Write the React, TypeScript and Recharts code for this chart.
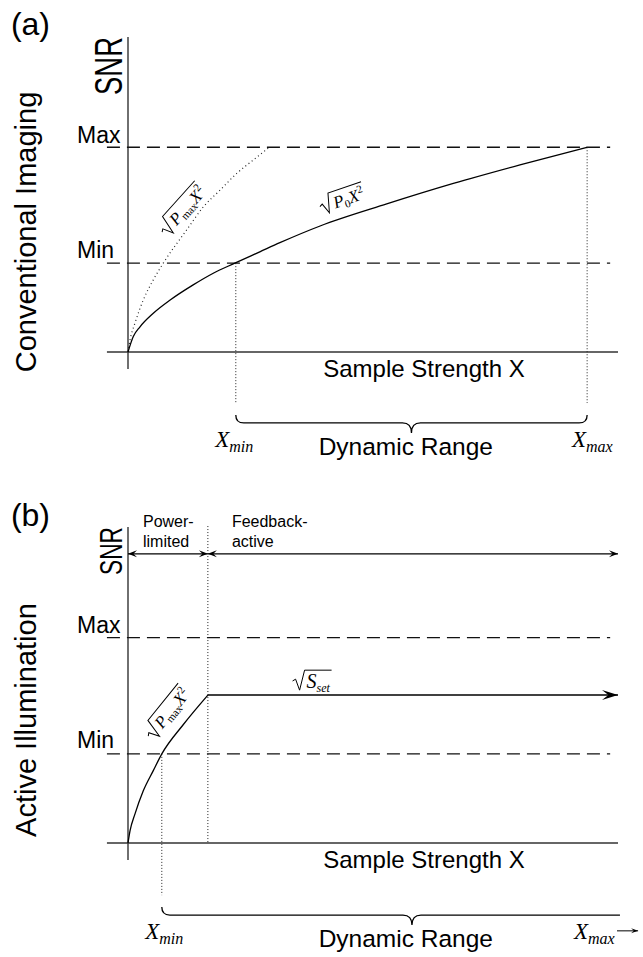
import React from 'react';
import { LineChart, Line, XAxis, YAxis, ReferenceLine, ReferenceDot } from 'recharts';

// SNR levels (same scale in both panels, 0..100)
const snrMax = 65;
const snrMin = 28.2;
const snrSet = 46.8;
const arrowRow = 91.5;

// sample strength positions (0..100)
const xMinConv = 22;
const xMaxConv = 93.7;
const xMinActive = 6.9;
const xKnee = 16.3;

// (a) sqrt(P0 X^2), solid
const convCurve = [
  { x: 0, y: 0 }, { x: 1.08, y: 4.9 }, { x: 2.45, y: 8.0 }, { x: 5.16, y: 12.3 },
  { x: 8.6, y: 16.5 }, { x: 13.3, y: 21.3 }, { x: 17.4, y: 25.0 }, { x: 21.8, y: 28.2 },
  { x: 26.9, y: 31.8 }, { x: 31.0, y: 34.7 }, { x: 39.2, y: 40.0 }, { x: 52.8, y: 47.0 },
  { x: 66.4, y: 53.5 }, { x: 80, y: 59.4 }, { x: 93.7, y: 65 },
];
// (a) sqrt(Pmax X^2), dotted
const pmaxCurve = [
  { x: 0, y: 0 }, { x: 0.41, y: 3.8 }, { x: 1.43, y: 9.2 }, { x: 3.12, y: 16.5 },
  { x: 5.16, y: 22.9 }, { x: 7.2, y: 28.2 }, { x: 12.0, y: 38.8 }, { x: 15.4, y: 46.1 },
  { x: 18.8, y: 51.4 }, { x: 22.2, y: 56.7 }, { x: 25.6, y: 61.0 }, { x: 28.6, y: 64.7 },
];
// (b) power-limited rise
const activeRise = [
  { x: 0, y: 0 }, { x: 0.41, y: 3.8 }, { x: 1.43, y: 9.2 }, { x: 3.12, y: 16.5 },
  { x: 5.16, y: 22.9 }, { x: 6.9, y: 28.2 }, { x: 11.3, y: 37.5 }, { x: 16.3, y: 46.8 },
];
// (b) feedback-active plateau
const activeFlat = [{ x: xKnee, y: snrSet }, { x: 100, y: snrSet }];

const levelNames = ['Max', 'Min'];

const SANS = '"Liberation Sans", Arial, Helvetica, sans-serif';
const SERIF = '"Liberation Serif", "Times New Roman", serif';
const INK = '#000';
const AXIS = '#333';

type TxtOpts = { size: number; anchor?: 'start' | 'middle' | 'end'; rotate?: number; len?: number };

const txt = (s: string | string[], o: TxtOpts) => (p: any) => {
  const rows = Array.isArray(s) ? s : [s];
  return (
    <text
      x={p.cx}
      y={p.cy}
      fontFamily={SANS}
      fontSize={o.size}
      textAnchor={o.anchor || 'start'}
      fill={INK}
      transform={o.rotate ? `rotate(${o.rotate} ${p.cx} ${p.cy})` : undefined}
      {...(o.len ? { textLength: o.len, lengthAdjust: 'spacingAndGlyphs' } : {})}
    >
      {rows.map((r, i) => (
        <tspan key={i} x={p.cx} dy={i === 0 ? 0 : o.size * 1.25}>{r}</tspan>
      ))}
    </text>
  );
};

const xSym = (sub: string) => (p: any) => (
  <text x={p.cx} y={p.cy} fontFamily={SERIF} fontStyle="italic" fill={INK}>
    <tspan fontSize={23}>X</tspan>
    <tspan fontSize={16} dy={5}>{sub}</tspan>
  </text>
);

// radical sign with body
const root = (h: number, w: number, angle: number, body: React.ReactNode) => (p: any) => (
  <g transform={`translate(${p.cx} ${p.cy}) rotate(${angle})`}>
    <path
      d={`M -3 ${-0.4 * h} L 0 ${-0.5 * h} L 4 2 L 9 ${-h} L ${12 + w} ${-h}`}
      fill="none"
      stroke={INK}
      strokeWidth={1}
    />
    <text x={11} y={0} fontFamily={SERIF} fill={INK}>{body}</text>
  </g>
);

const pmaxBody = (
  <>
    <tspan fontStyle="italic" fontSize={17}>P</tspan>
    <tspan fontSize={11} dy={3}>max</tspan>
    <tspan fontStyle="italic" fontSize={17} dy={-3}>X</tspan>
    <tspan fontSize={11} dy={-7}>2</tspan>
  </>
);
const p0Body = (
  <>
    <tspan fontStyle="italic" fontSize={17}>P</tspan>
    <tspan fontSize={11} dy={3}>0</tspan>
    <tspan fontStyle="italic" fontSize={17} dy={-3}>X</tspan>
    <tspan fontSize={11} dy={-7}>2</tspan>
  </>
);
const ssetBody = (
  <>
    <tspan fontStyle="italic" fontSize={20}>S</tspan>
    <tspan fontStyle="italic" fontSize={12} dy={4}>set</tspan>
  </>
);

const brace = (tip: number, left: boolean, right: boolean) => (p: any) => {
  const { x1, x2, y1: y } = p;
  const m = x1 + (x2 - x1) * tip;
  const r = 8;
  const d = [
    left ? `M ${x1} ${y - r} Q ${x1} ${y} ${x1 + r} ${y}` : `M ${x1} ${y}`,
    `L ${m - 9} ${y} Q ${m} ${y} ${m} ${y + 10} Q ${m} ${y} ${m + 9} ${y}`,
    right ? `L ${x2 - r} ${y} Q ${x2} ${y} ${x2} ${y - r}` : `L ${x2} ${y}`,
  ].join(' ');
  return <path d={d} fill="none" stroke={INK} strokeWidth={1.3} />;
};

const head = (x: number, y: number, dir: number, len: number, half: number) =>
  `M ${x} ${y} L ${x - dir * len} ${y - half} L ${x - dir * len * 0.6} ${y} L ${x - dir * len} ${y + half} Z`;

const arrow = (both: boolean, len: number, half: number, width: number) => (p: any) => (
  <g>
    <line x1={p.x1} y1={p.y1} x2={p.x2} y2={p.y2} stroke={INK} strokeWidth={width} />
    {both && <path d={head(p.x1, p.y1, -1, len, half)} fill={INK} />}
    <path d={head(p.x2, p.y2, 1, len, half)} fill={INK} />
  </g>
);

const plateauHead = (props: any) =>
  props.index === activeFlat.length - 1 ? (
    <path key={`h-${props.index}`} d={head(props.cx, props.cy, 1, 16, 5)} fill={INK} />
  ) : (
    <g key={`h-${props.index}`} />
  );

const V = 'visible' as const;

// shared frame: axes, Max/Min dashed levels and their labels
const frame = (levelY: number[]) => [
  <ReferenceLine key="ya" segment={[{ x: 0, y: -5.4 }, { x: 0, y: 100 }]} stroke={AXIS} strokeWidth={1.4} ifOverflow={V} />,
  <ReferenceLine key="xa" segment={[{ x: -4.3, y: 0 }, { x: 100, y: 0 }]} stroke={AXIS} strokeWidth={1.4} ifOverflow={V} />,
  <ReferenceLine key="lmax" segment={[{ x: -4.3, y: snrMax }, { x: 98.4, y: snrMax }]} stroke="#111" strokeWidth={1.3} strokeDasharray="13 7" ifOverflow={V} />,
  <ReferenceLine key="lmin" segment={[{ x: -4.3, y: snrMin }, { x: 98.4, y: snrMin }]} stroke="#111" strokeWidth={1.3} strokeDasharray="13 7" ifOverflow={V} />,
  ...levelNames.map((n, i) => (
    <ReferenceDot key={n} x={-10.4} y={levelY[i]} r={0} ifOverflow={V} shape={txt(n, { size: 23 })} />
  )),
  <ReferenceDot key="sx" x={60.4} y={-7.9} r={0} ifOverflow={V} shape={txt('Sample Strength X', { size: 24, anchor: 'middle' })} />,
];

export default function App() {
  return (
    <div style={{ position: 'absolute', left: 0, top: 0, width: 643, height: 957, background: '#fff' }}>
      <LineChart width={643} height={490} margin={{ top: 37, right: 25, bottom: 138, left: 128 }}>
        <XAxis type="number" dataKey="x" domain={[0, 100]} hide />
        <YAxis type="number" dataKey="y" domain={[0, 100]} hide />
        {frame([66.3, 29.8])}
        <ReferenceLine segment={[{ x: xMinConv, y: snrMin }, { x: xMinConv, y: -16.2 }]} stroke="#222" strokeDasharray="1 2" ifOverflow={V} />
        <ReferenceLine segment={[{ x: xMaxConv, y: snrMax }, { x: xMaxConv, y: -16.2 }]} stroke="#222" strokeDasharray="1 2" ifOverflow={V} />
        <ReferenceLine segment={[{ x: xMinConv, y: -22.5 }, { x: xMaxConv, y: -22.5 }]} ifOverflow={V} shape={brace(0.5, true, true)} />
        <Line data={pmaxCurve} dataKey="y" type="monotone" stroke="#222" strokeWidth={1.2} strokeDasharray="1 3" dot={false} activeDot={false} isAnimationActive={false} />
        <Line data={convCurve} dataKey="y" type="monotone" stroke={INK} strokeWidth={1.3} dot={false} activeDot={false} isAnimationActive={false} />
        <ReferenceDot x={-23.9} y={100.6} r={0} ifOverflow={V} shape={txt('(a)', { size: 32 })} />
        <ReferenceDot x={-1.2} y={90.8} r={0} ifOverflow={V} shape={txt('SNR', { size: 39, anchor: 'middle', rotate: -90, len: 58 })} />
        <ReferenceDot x={-18.8} y={38.1} r={0} ifOverflow={V} shape={txt('Conventional Imaging', { size: 29, anchor: 'middle', rotate: -90 })} />
        <ReferenceDot x={56.7} y={-32.7} r={0} ifOverflow={V} shape={txt('Dynamic Range', { size: 24.5, anchor: 'middle' })} />
        <ReferenceDot x={17.8} y={-30.2} r={0} ifOverflow={V} shape={xSym('min')} />
        <ReferenceDot x={90.6} y={-30.2} r={0} ifOverflow={V} shape={xSym('max')} />
        <ReferenceDot x={40.2} y={44.4} r={0} ifOverflow={V} shape={root(17, 32, -19, p0Body)} />
        <ReferenceDot x={8.4} y={37.3} r={0} ifOverflow={V} shape={root(17, 45, -48, pmaxBody)} />
      </LineChart>

      <LineChart width={643} height={467} margin={{ top: 37, right: 25, bottom: 114, left: 128 }}>
        <XAxis type="number" dataKey="x" domain={[0, 100]} hide />
        <YAxis type="number" dataKey="y" domain={[0, 100]} hide />
        {frame([66.5, 30.1])}
        <ReferenceLine segment={[{ x: xKnee, y: 100.3 }, { x: xKnee, y: 0 }]} stroke="#222" strokeDasharray="1 2" ifOverflow={V} />
        <ReferenceLine segment={[{ x: xMinActive, y: snrMin }, { x: xMinActive, y: -16.5 }]} stroke="#222" strokeDasharray="1 2" ifOverflow={V} />
        <ReferenceLine segment={[{ x: xMinActive, y: -22.8 }, { x: 100.4, y: -22.8 }]} ifOverflow={V} shape={brace(0.546, true, false)} />
        <ReferenceLine segment={[{ x: 0, y: arrowRow }, { x: xKnee, y: arrowRow }]} ifOverflow={V} shape={arrow(true, 9, 3.5, 1.2)} />
        <ReferenceLine segment={[{ x: xKnee, y: arrowRow }, { x: 100, y: arrowRow }]} ifOverflow={V} shape={arrow(true, 9, 3.5, 1.2)} />
        <ReferenceLine segment={[{ x: 99.8, y: -27.8 }, { x: 104.1, y: -27.8 }]} ifOverflow={V} shape={arrow(false, 7, 2.5, 1)} />
        <Line data={activeRise} dataKey="y" type="monotone" stroke={INK} strokeWidth={1.3} dot={false} activeDot={false} isAnimationActive={false} />
        <Line data={activeFlat} dataKey="y" type="linear" stroke={INK} strokeWidth={1.5} dot={plateauHead} activeDot={false} isAnimationActive={false} />
        <ReferenceDot x={-23.9} y={100.3} r={0} ifOverflow={V} shape={txt('(b)', { size: 32 })} />
        <ReferenceDot x={-1.2} y={92.4} r={0} ifOverflow={V} shape={txt('SNR', { size: 31, anchor: 'middle', rotate: -90, len: 48 })} />
        <ReferenceDot x={-18.8} y={38.9} r={0} ifOverflow={V} shape={txt('Active Illumination', { size: 29, anchor: 'middle', rotate: -90 })} />
        <ReferenceDot x={3.06} y={100} r={0} ifOverflow={V} shape={txt(['Power-', 'limited'], { size: 16 })} />
        <ReferenceDot x={21.2} y={100} r={0} ifOverflow={V} shape={txt(['Feedback-', 'active'], { size: 16 })} />
        <ReferenceDot x={56.7} y={-32.9} r={0} ifOverflow={V} shape={txt('Dynamic Range', { size: 24.5, anchor: 'middle' })} />
        <ReferenceDot x={3.5} y={-30.4} r={0} ifOverflow={V} shape={xSym('min')} />
        <ReferenceDot x={91} y={-30.4} r={0} ifOverflow={V} shape={xSym('max')} />
        <ReferenceDot x={34.2} y={49} r={0} ifOverflow={V} shape={root(18, 24, 0, ssetBody)} />
        <ReferenceDot x={5.6} y={33.2} r={0} ifOverflow={V} shape={root(17, 45, -51, pmaxBody)} />
      </LineChart>
    </div>
  );
}
